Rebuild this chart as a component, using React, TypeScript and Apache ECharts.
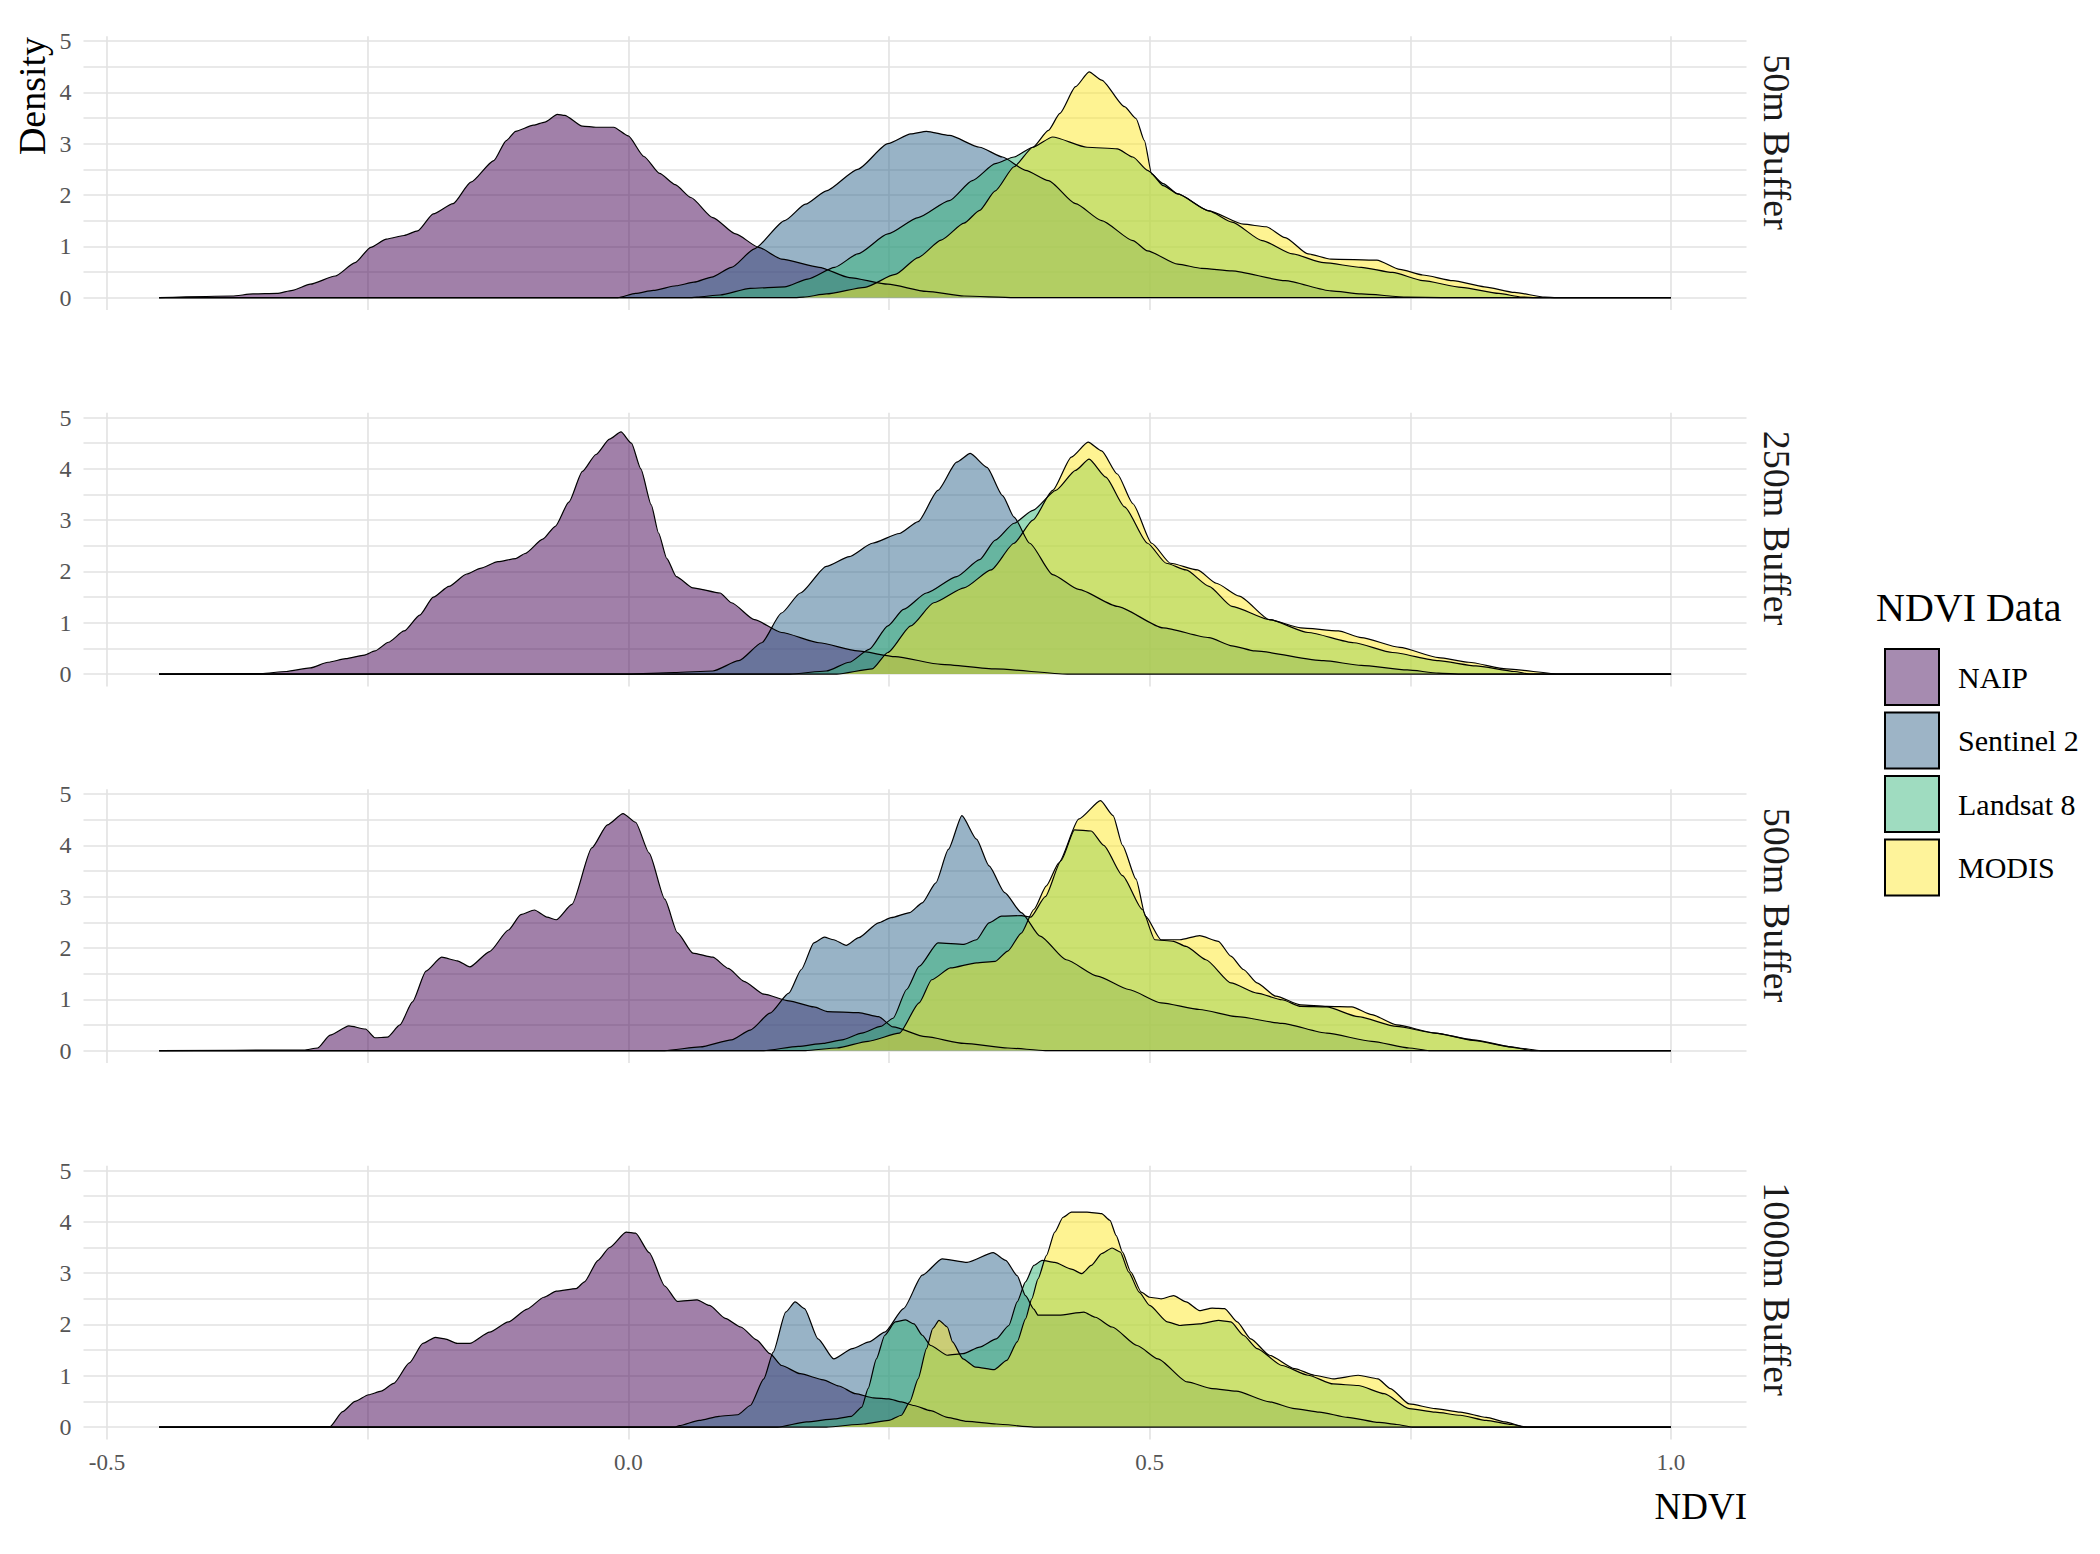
import React, { useEffect, useRef } from "react";
import * as echarts from "echarts";

// ---------- data ----------
const PANEL_LABELS = ["50m Buffer", "250m Buffer", "500m Buffer", "1000m Buffer"];
const SOURCES = ["NAIP", "Sentinel 2", "Landsat 8", "MODIS"];
const VIRIDIS = ["#440154", "#31688E", "#35B779", "#FDE725"];
const LEGEND_FILLS = ["#a68bb0", "#9db4c6", "#9fdcc0", "#fef39a"];

const Y_LABELS = [0, 1, 2, 3, 4, 5];
const X_LABELS = [-0.5, 0, 0.5, 1.0];
const H_GRID = [0, 0.5, 1, 1.5, 2, 2.5, 3, 3.5, 4, 4.5, 5];
const V_GRID = [-0.5, -0.25, 0, 0.25, 0.5, 0.75, 1.0];

// 50m buffer
const NAIP_50 = [[-0.45,0],[-0.38,0.03],[-0.36,0.07],[-0.337,0.08],[-0.322,0.14],[-0.305,0.26],[-0.281,0.42],[-0.262,0.68],[-0.247,0.98],[-0.232,1.14],[-0.215,1.21],[-0.202,1.3],[-0.187,1.63],[-0.168,1.83],[-0.151,2.25],[-0.129,2.67],[-0.117,3.06],[-0.108,3.24],[-0.091,3.36],[-0.08,3.42],[-0.068,3.57],[-0.061,3.55],[-0.044,3.34],[-0.031,3.32],[-0.014,3.32],[0.0,3.15],[0.015,2.75],[0.03,2.42],[0.045,2.2],[0.06,1.95],[0.081,1.56],[0.103,1.24],[0.125,0.98],[0.147,0.75],[0.183,0.59],[0.212,0.39],[0.249,0.26],[0.286,0.12],[0.322,0.03],[0.37,0],[1.0,0]];
const S2_50 = [[-0.45,0],[-0.01,0],[0.007,0.08],[0.024,0.14],[0.046,0.23],[0.063,0.3],[0.08,0.4],[0.099,0.59],[0.121,0.95],[0.15,1.5],[0.17,1.82],[0.19,2.08],[0.22,2.5],[0.249,3.0],[0.271,3.19],[0.286,3.24],[0.308,3.16],[0.337,2.93],[0.359,2.74],[0.381,2.48],[0.403,2.28],[0.429,1.83],[0.454,1.5],[0.484,1.11],[0.498,0.91],[0.527,0.65],[0.55,0.57],[0.579,0.52],[0.63,0.33],[0.674,0.13],[0.703,0.07],[0.747,0.01],[0.78,0],[1.0,0]];
const L8_50 = [[-0.45,0],[0.06,0],[0.066,0.01],[0.088,0.05],[0.117,0.18],[0.15,0.21],[0.172,0.36],[0.198,0.59],[0.22,0.85],[0.249,1.24],[0.278,1.56],[0.308,1.89],[0.33,2.28],[0.352,2.61],[0.37,2.74],[0.388,2.93],[0.407,3.13],[0.44,2.93],[0.469,2.9],[0.484,2.74],[0.498,2.48],[0.513,2.22],[0.527,2.02],[0.557,1.69],[0.579,1.47],[0.608,1.11],[0.637,0.85],[0.667,0.68],[0.703,0.59],[0.733,0.49],[0.762,0.33],[0.799,0.2],[0.835,0.08],[0.857,0.01],[0.87,0],[1.0,0]];
const MOD_50 = [[-0.45,0],[0.16,0],[0.168,0.01],[0.19,0.07],[0.227,0.2],[0.256,0.45],[0.278,0.78],[0.3,1.12],[0.322,1.45],[0.337,1.7],[0.352,2.08],[0.37,2.55],[0.388,2.93],[0.403,3.26],[0.414,3.59],[0.429,4.11],[0.442,4.4],[0.454,4.24],[0.476,3.72],[0.487,3.49],[0.495,3.06],[0.502,2.41],[0.513,2.18],[0.527,2.02],[0.557,1.69],[0.59,1.43],[0.612,1.38],[0.63,1.17],[0.652,0.85],[0.674,0.75],[0.718,0.73],[0.74,0.55],[0.762,0.44],[0.791,0.33],[0.821,0.21],[0.85,0.1],[0.879,0.01],[0.89,0],[1.0,0]];

// 250m buffer
const NAIP_250 = [[-0.45,0],[-0.352,0.01],[-0.328,0.05],[-0.305,0.12],[-0.288,0.23],[-0.271,0.3],[-0.253,0.37],[-0.243,0.45],[-0.23,0.62],[-0.215,0.84],[-0.2,1.15],[-0.187,1.5],[-0.172,1.71],[-0.155,1.95],[-0.142,2.06],[-0.125,2.19],[-0.108,2.25],[-0.099,2.35],[-0.082,2.63],[-0.07,2.88],[-0.057,3.35],[-0.044,3.95],[-0.031,4.28],[-0.018,4.58],[-0.007,4.72],[0.003,4.5],[0.012,4.0],[0.022,3.3],[0.029,2.75],[0.037,2.25],[0.046,1.9],[0.062,1.68],[0.088,1.58],[0.099,1.39],[0.121,1.06],[0.147,0.81],[0.183,0.61],[0.22,0.45],[0.256,0.34],[0.3,0.19],[0.352,0.1],[0.421,0],[1.0,0]];
const S2_250 = [[-0.45,0],[0.0,0],[0.044,0.03],[0.081,0.06],[0.106,0.26],[0.128,0.61],[0.147,1.19],[0.165,1.58],[0.19,2.1],[0.212,2.29],[0.234,2.55],[0.26,2.74],[0.278,2.97],[0.297,3.58],[0.315,4.13],[0.328,4.3],[0.344,4.03],[0.359,3.48],[0.37,3.06],[0.385,2.55],[0.407,1.94],[0.432,1.65],[0.469,1.32],[0.513,0.9],[0.557,0.71],[0.579,0.55],[0.601,0.45],[0.667,0.26],[0.703,0.17],[0.747,0.08],[0.777,0.02],[0.8,0],[1.0,0]];
const L8_250 = [[-0.45,0],[0.155,0],[0.19,0.06],[0.212,0.23],[0.231,0.48],[0.249,0.94],[0.264,1.26],[0.286,1.58],[0.315,1.9],[0.337,2.23],[0.352,2.61],[0.37,2.94],[0.388,3.19],[0.41,3.58],[0.429,3.97],[0.442,4.19],[0.458,3.84],[0.476,3.26],[0.498,2.55],[0.516,2.16],[0.535,2.03],[0.557,1.71],[0.579,1.32],[0.615,1.06],[0.652,0.81],[0.696,0.61],[0.733,0.42],[0.777,0.26],[0.813,0.16],[0.85,0.05],[0.865,0],[1.0,0]];
const MOD_250 = [[-0.45,0],[0.2,0],[0.234,0.1],[0.249,0.42],[0.271,0.94],[0.293,1.39],[0.322,1.68],[0.348,2.03],[0.37,2.55],[0.388,3.0],[0.407,3.58],[0.425,4.23],[0.441,4.52],[0.454,4.35],[0.469,3.9],[0.484,3.32],[0.502,2.55],[0.52,2.16],[0.546,2.03],[0.564,1.77],[0.586,1.52],[0.615,1.06],[0.645,0.9],[0.681,0.84],[0.703,0.71],[0.74,0.52],[0.777,0.32],[0.806,0.23],[0.842,0.1],[0.894,0],[1.0,0]];

// 500m buffer
const NAIP_500 = [[-0.45,0],[-0.311,0.01],[-0.298,0.05],[-0.286,0.3],[-0.268,0.48],[-0.252,0.42],[-0.243,0.25],[-0.231,0.26],[-0.219,0.5],[-0.207,0.95],[-0.194,1.55],[-0.179,1.82],[-0.164,1.75],[-0.152,1.63],[-0.133,1.93],[-0.115,2.35],[-0.103,2.65],[-0.09,2.74],[-0.078,2.6],[-0.069,2.55],[-0.054,2.85],[-0.035,3.95],[-0.02,4.4],[-0.005,4.62],[0.007,4.45],[0.02,3.85],[0.035,2.95],[0.047,2.3],[0.062,1.9],[0.081,1.82],[0.096,1.6],[0.111,1.35],[0.13,1.1],[0.154,0.97],[0.178,0.85],[0.191,0.76],[0.221,0.74],[0.24,0.66],[0.254,0.46],[0.285,0.27],[0.322,0.14],[0.364,0.05],[0.4,0],[1.0,0]];
const S2_500 = [[-0.45,0],[0.035,0],[0.069,0.07],[0.099,0.21],[0.117,0.4],[0.136,0.73],[0.154,1.12],[0.166,1.58],[0.178,2.1],[0.188,2.21],[0.197,2.16],[0.209,2.05],[0.221,2.2],[0.24,2.49],[0.252,2.59],[0.27,2.69],[0.282,2.88],[0.295,3.27],[0.307,3.92],[0.32,4.58],[0.334,4.12],[0.346,3.6],[0.361,3.08],[0.377,2.69],[0.395,2.23],[0.42,1.77],[0.45,1.45],[0.48,1.19],[0.511,0.93],[0.548,0.8],[0.584,0.66],[0.627,0.53],[0.67,0.34],[0.713,0.18],[0.749,0.05],[0.768,0],[1.0,0]];
const L8_500 = [[-0.45,0],[0.13,0],[0.163,0.08],[0.187,0.14],[0.205,0.21],[0.224,0.34],[0.242,0.47],[0.254,0.63],[0.267,1.19],[0.279,1.64],[0.297,2.1],[0.322,2.07],[0.334,2.16],[0.346,2.49],[0.358,2.62],[0.377,2.63],[0.386,2.6],[0.4,3.0],[0.415,3.7],[0.428,4.3],[0.444,4.28],[0.456,4.0],[0.474,3.41],[0.493,2.75],[0.505,2.16],[0.523,2.13],[0.535,2.03],[0.554,1.77],[0.578,1.32],[0.603,1.12],[0.627,0.99],[0.645,0.86],[0.67,0.85],[0.7,0.66],[0.737,0.47],[0.774,0.34],[0.81,0.2],[0.847,0.07],[0.866,0],[1.0,0]];
const MOD_500 = [[-0.45,0],[0.17,0],[0.2,0.05],[0.23,0.18],[0.26,0.34],[0.279,0.93],[0.291,1.38],[0.309,1.61],[0.334,1.71],[0.352,1.74],[0.364,1.94],[0.377,2.29],[0.389,2.75],[0.401,3.21],[0.413,3.66],[0.432,4.51],[0.453,4.87],[0.465,4.58],[0.474,4.0],[0.487,3.34],[0.496,2.62],[0.511,2.16],[0.529,2.16],[0.548,2.24],[0.566,2.13],[0.578,1.84],[0.59,1.58],[0.603,1.32],[0.621,1.06],[0.645,0.89],[0.67,0.86],[0.694,0.85],[0.713,0.7],[0.737,0.5],[0.774,0.34],[0.81,0.21],[0.853,0.05],[0.875,0],[1.0,0]];

// 1000m buffer
const NAIP_1000 = [[-0.45,0],[-0.286,0.01],[-0.274,0.3],[-0.262,0.5],[-0.249,0.63],[-0.237,0.7],[-0.225,0.85],[-0.21,1.25],[-0.197,1.63],[-0.185,1.75],[-0.176,1.72],[-0.164,1.63],[-0.152,1.63],[-0.133,1.85],[-0.115,2.05],[-0.097,2.3],[-0.081,2.53],[-0.069,2.65],[-0.05,2.7],[-0.042,2.83],[-0.029,3.25],[-0.018,3.5],[-0.002,3.8],[0.007,3.78],[0.02,3.4],[0.035,2.75],[0.047,2.45],[0.066,2.48],[0.078,2.37],[0.093,2.12],[0.108,1.95],[0.123,1.7],[0.136,1.43],[0.147,1.2],[0.165,1.04],[0.187,0.92],[0.202,0.8],[0.218,0.65],[0.235,0.57],[0.25,0.55],[0.262,0.49],[0.274,0.42],[0.29,0.32],[0.306,0.19],[0.325,0.11],[0.353,0.06],[0.389,0],[1.0,0]];
const S2_1000 = [[-0.45,0],[0.045,0],[0.049,0.03],[0.068,0.13],[0.087,0.21],[0.105,0.24],[0.117,0.42],[0.13,0.94],[0.139,1.46],[0.151,2.24],[0.16,2.44],[0.169,2.31],[0.182,1.72],[0.197,1.33],[0.215,1.53],[0.231,1.66],[0.246,1.85],[0.264,2.31],[0.282,2.96],[0.301,3.28],[0.325,3.21],[0.35,3.4],[0.362,3.25],[0.373,2.95],[0.381,2.56],[0.389,2.3],[0.393,2.18],[0.413,2.18],[0.437,2.24],[0.448,2.14],[0.464,1.95],[0.488,1.59],[0.508,1.33],[0.536,0.88],[0.56,0.75],[0.583,0.7],[0.615,0.49],[0.639,0.36],[0.663,0.29],[0.69,0.19],[0.72,0.09],[0.737,0.05],[0.752,0],[1.0,0]];
const L8_1000 = [[-0.45,0],[0.143,0],[0.171,0.1],[0.198,0.16],[0.214,0.21],[0.224,0.39],[0.23,0.75],[0.238,1.33],[0.246,1.79],[0.256,2.05],[0.266,2.09],[0.274,2.01],[0.282,1.79],[0.29,1.59],[0.306,1.4],[0.321,1.43],[0.337,1.56],[0.353,1.72],[0.365,1.98],[0.373,2.44],[0.381,2.83],[0.389,3.15],[0.397,3.25],[0.409,3.21],[0.425,3.08],[0.435,2.99],[0.444,3.15],[0.454,3.38],[0.464,3.49],[0.472,3.41],[0.48,3.02],[0.49,2.63],[0.5,2.37],[0.517,2.05],[0.529,1.98],[0.548,2.01],[0.566,2.08],[0.578,2.05],[0.59,1.79],[0.603,1.53],[0.627,1.2],[0.652,1.01],[0.676,0.84],[0.7,0.81],[0.725,0.65],[0.749,0.36],[0.774,0.29],[0.798,0.23],[0.823,0.13],[0.847,0.05],[0.862,0],[1.0,0]];
const MOD_1000 = [[-0.45,0],[0.19,0],[0.226,0.06],[0.25,0.13],[0.262,0.23],[0.27,0.49],[0.278,0.94],[0.286,1.53],[0.292,1.92],[0.298,2.08],[0.306,1.95],[0.311,1.66],[0.321,1.33],[0.333,1.17],[0.351,1.12],[0.363,1.3],[0.373,1.66],[0.381,2.11],[0.387,2.5],[0.393,2.89],[0.401,3.34],[0.409,3.8],[0.417,4.09],[0.425,4.19],[0.44,4.19],[0.454,4.16],[0.462,4.03],[0.468,3.73],[0.474,3.41],[0.482,3.02],[0.492,2.63],[0.5,2.53],[0.511,2.5],[0.523,2.56],[0.535,2.44],[0.548,2.27],[0.56,2.32],[0.572,2.31],[0.584,2.05],[0.597,1.72],[0.615,1.4],[0.639,1.14],[0.658,1.01],[0.676,0.94],[0.7,1.01],[0.719,0.94],[0.731,0.75],[0.749,0.45],[0.774,0.36],[0.798,0.29],[0.823,0.19],[0.841,0.1],[0.86,0],[1.0,0]];

const PANEL_DATA = [
  [NAIP_50, S2_50, L8_50, MOD_50],
  [NAIP_250, S2_250, L8_250, MOD_250],
  [NAIP_500, S2_500, L8_500, MOD_500],
  [NAIP_1000, S2_1000, L8_1000, MOD_1000],
];

// ---------- layout ----------
const W = 2100;
const H = 1554;
const FONT = "'Liberation Serif', 'Times New Roman', 'DejaVu Serif', serif";
const GRID_LEFT = 83.5;
const GRID_WIDTH = 1663;
const GRID_TOPS = [36.3, 412.8, 789.3, 1165.8];
const GRID_HEIGHT = 273.7;
const STRIP_Y = [142, 528, 905, 1289];

export default function App() {
  const ref = useRef<HTMLDivElement>(null);

  useEffect(() => {
    document.body.style.margin = "0";
    if (!ref.current) return;
    const chart = echarts.init(ref.current, null, { renderer: "svg" });

    const grids = GRID_TOPS.map((top) => ({
      left: GRID_LEFT,
      width: GRID_WIDTH,
      top,
      height: GRID_HEIGHT,
      containLabel: false,
    }));

    const xAxes = GRID_TOPS.map((_, i) => ({
      type: "value",
      gridIndex: i,
      min: -0.5225,
      max: 1.0725,
      axisLine: { show: false },
      axisTick: { show: false },
      splitLine: { show: false },
      axisLabel: {
        show: i === GRID_TOPS.length - 1,
        customValues: X_LABELS,
        formatter: (v: number) => v.toFixed(1),
        color: "#555555",
        fontFamily: FONT,
        fontSize: 23,
        margin: 11,
      },
    }));

    const yAxes = GRID_TOPS.map((_, i) => ({
      type: "value",
      gridIndex: i,
      min: -0.2425,
      max: 5.0925,
      axisLine: { show: false },
      axisTick: { show: false },
      splitLine: { show: false },
      axisLabel: {
        customValues: Y_LABELS,
        formatter: (v: number) => String(v),
        color: "#555555",
        fontFamily: FONT,
        fontSize: 24,
        margin: 12,
      },
    }));

    const series: any[] = [];
    GRID_TOPS.forEach((_, i) => {
      series.push({
        type: "line",
        xAxisIndex: i,
        yAxisIndex: i,
        data: [],
        silent: true,
        z: 0,
        markLine: {
          silent: true,
          z: 0,
          symbol: ["none", "none"],
          label: { show: false },
          emphasis: { disabled: true },
          lineStyle: { color: "#e2e2e2", width: 1.6, type: "solid" },
          data: [
            ...H_GRID.map((v) => ({ yAxis: v })),
            ...V_GRID.map((v) => ({ xAxis: v })),
          ],
        },
      });
      PANEL_DATA[i].forEach((arr, s) => {
        series.push({
          name: SOURCES[s],
          type: "line",
          xAxisIndex: i,
          yAxisIndex: i,
          data: arr,
          symbol: "none",
          showSymbol: false,
          smooth: 0.2,
          smoothMonotone: "x",
          clip: false,
          z: 2,
          silent: true,
          color: LEGEND_FILLS[s],
          itemStyle: { color: LEGEND_FILLS[s] },
          lineStyle: { color: "#000000", width: 1.2 },
          areaStyle: { color: VIRIDIS[s], opacity: 0.5 },
        });
      });
    });

    const graphics: any[] = [
      {
        type: "text",
        x: 32,
        y: 96,
        rotation: Math.PI / 2,
        style: {
          text: "Density",
          x: 0,
          y: 0,
          fill: "#000",
          font: `38px ${FONT}`,
          align: "center",
          verticalAlign: "middle",
          textAlign: "center",
          textVerticalAlign: "middle",
        },
      },
      {
        type: "text",
        x: 1747,
        y: 1506,
        style: {
          text: "NDVI",
          x: 0,
          y: 0,
          fill: "#000",
          font: `37px ${FONT}`,
          align: "right",
          verticalAlign: "middle",
          textAlign: "right",
          textVerticalAlign: "middle",
        },
      },
      {
        type: "text",
        x: 1876,
        y: 607,
        style: {
          text: "NDVI Data",
          x: 0,
          y: 0,
          fill: "#000",
          font: `40px ${FONT}`,
          align: "left",
          verticalAlign: "middle",
          textAlign: "left",
          textVerticalAlign: "middle",
        },
      },
      ...PANEL_LABELS.map((t, i) => ({
        type: "text",
        x: 1777,
        y: STRIP_Y[i],
        rotation: -Math.PI / 2,
        style: {
          text: t,
          x: 0,
          y: 0,
          fill: "#1a1a1a",
          font: `38px ${FONT}`,
          align: "center",
          verticalAlign: "middle",
          textAlign: "center",
          textVerticalAlign: "middle",
        },
      })),
    ];

    chart.setOption({
      animation: false,
      backgroundColor: "#ffffff",
      grid: grids,
      xAxis: xAxes,
      yAxis: yAxes,
      legend: {
        orient: "vertical",
        left: 1884,
        top: 648,
        padding: 0,
        itemWidth: 54,
        itemHeight: 56,
        itemGap: 5.5,
        icon: "rect",
        selectedMode: false,
        itemStyle: { borderColor: "#000000", borderWidth: 2 },
        textStyle: {
          fontFamily: FONT,
          fontSize: 30,
          color: "#000000",
          padding: [0, 0, 0, 14],
        },
        data: SOURCES.map((n, i) => ({
          name: n,
          itemStyle: { color: LEGEND_FILLS[i], borderColor: "#000", borderWidth: 2, opacity: 1 },
        })),
      },
      graphic: graphics,
      series,
    });

    return () => chart.dispose();
  }, []);

  return (
    <div
      ref={ref}
      style={{ position: "absolute", left: 0, top: 0, width: W, height: H, background: "#fff" }}
    />
  );
}
